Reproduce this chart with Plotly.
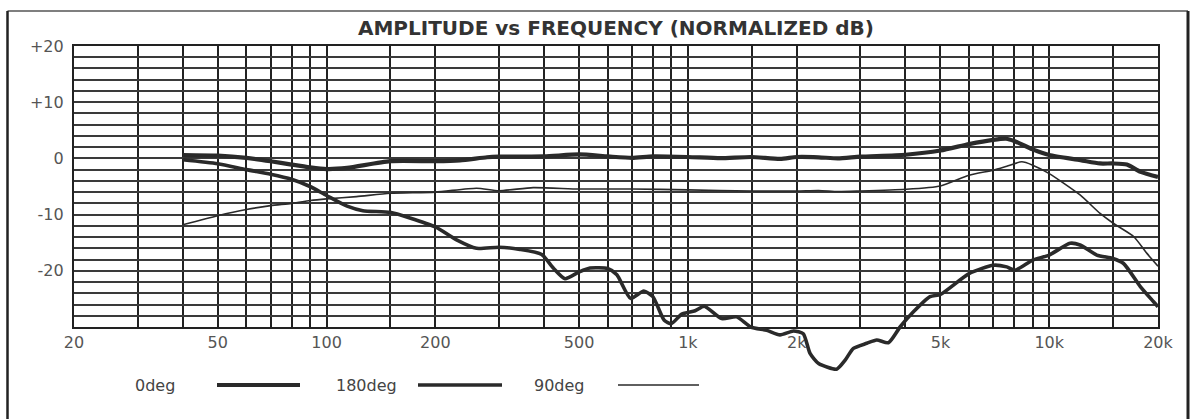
import math
import plotly.graph_objects as go

# ---------------- data ----------------
freq_0deg = [40, 50, 60, 70, 80, 90, 100, 114, 150, 200, 234, 278, 300, 400, 500, 600, 700,
             800, 1000, 1230, 1500, 1800, 2000, 2300, 2600, 3000, 4000, 5000, 6000, 7000,
             7600, 8000, 9000, 10000, 12200, 13800, 15000, 16400, 17900, 20000]
db_0deg = [0.6, 0.5, 0.1, -0.5, -1.1, -1.6, -1.9, -1.7, -0.5, -0.5, -0.35, 0.2, 0.3, 0.35, 0.7,
           0.35, 0.1, 0.35, 0.25, 0.05, 0.25, -0.1, 0.25, 0.2, 0.0, 0.3, 0.65, 1.4, 2.55, 3.3,
           3.5, 3.1, 1.6, 0.6, -0.3, -0.9, -0.9, -1.1, -2.4, -3.3]

freq_180deg = [40, 50, 60, 70, 80, 90, 100, 114, 126, 150, 170, 200, 229, 260, 300, 343, 394,
               424, 457, 500, 536, 600, 636, 694, 755, 800, 860, 900, 962, 1047, 1110, 1240,
               1365, 1493, 1653, 1798, 1960, 2086, 2178, 2300, 2580, 2724, 2871, 3127, 3331,
               3588, 3865, 4209, 4679, 5000, 6000, 7000, 7630, 8046, 9000, 10000, 11420,
               12170, 13540, 15000, 16060, 17870, 19440, 20000]
db_180deg = [-0.25, -0.95, -2.0, -2.8, -3.7, -5.0, -6.6, -8.5, -9.3, -9.6, -10.6, -12.2, -14.5,
             -16.0, -15.8, -16.2, -17.1, -19.5, -21.4, -20.2, -19.5, -19.6, -20.7, -24.9,
             -23.6, -24.6, -28.8, -29.4, -27.7, -27.1, -26.3, -28.5, -28.2, -30.0, -30.6,
             -31.4, -30.7, -31.2, -34.7, -36.5, -37.5, -35.9, -33.8, -32.9, -32.3, -32.8,
             -30.0, -27.3, -24.6, -24.2, -20.5, -19.0, -19.3, -19.9, -18.1, -17.2, -15.1,
             -15.4, -17.2, -17.8, -18.7, -22.8, -25.5, -26.4]

freq_90deg = [40, 50, 60, 70, 80, 90, 100, 121, 150, 200, 260, 300, 373, 500, 700, 1000, 1500,
              2000, 2300, 2600, 3000, 4000, 5000, 6000, 7000, 7630, 8400, 9000, 10000, 12170,
              13830, 15000, 17120, 18640, 20000]
db_90deg = [-11.8, -10.2, -9.1, -8.4, -8.0, -7.5, -7.2, -6.8, -6.2, -6.0, -5.3, -5.75, -5.2,
            -5.45, -5.45, -5.6, -5.8, -5.8, -5.7, -5.9, -5.8, -5.5, -4.9, -3.0, -2.1, -1.4,
            -0.6, -1.2, -2.7, -6.5, -9.8, -11.5, -13.9, -16.9, -19.2]

x_grid_vals = [20, 30, 40, 50, 60, 70, 80, 90, 100, 150, 200, 300, 400, 500, 600, 700, 800,
               900, 1000, 1500, 2000, 3000, 4000, 5000, 6000, 7000, 8000, 9000, 10000, 15000,
               20000]
x_grid_text = ['20', '', '', '50', '', '', '', '', '100', '', '200', '', '', '500', '', '', '',
               '', '1k', '', '2k', '', '', '5k', '', '', '', '', '10k', '', '20k']
y_grid_vals = list(range(-30, 21, 2))
y_label_map = {20: '+20', 10: '+10', 0: '0', -10: '-10', -20: '-20'}
y_grid_text = [y_label_map.get(v, '') for v in y_grid_vals]

series_names = ['0deg', '180deg', '90deg']
series_widths = [4.2, 3.6, 1.6]

# ---------------- layout geometry ----------------
W, H = 1192, 419
ML, MR, MT, MB = 74, 34, 46, 30
PW, PH = W - ML - MR, H - MT - MB
GRID_BOTTOM_PX = 327
Y_MIN, Y_MAX = -30, 20
dom_bottom = (H - MB - GRID_BOTTOM_PX) / PH
px_per_db = (GRID_BOTTOM_PX - MT) / (Y_MAX - Y_MIN)
y2_min = Y_MIN - (H - MB - GRID_BOTTOM_PX) / px_per_db


def px(xp):
    return (xp - ML) / PW


def py(yp):
    return (H - MB - yp) / PH


LINE_COLOR = '#2a2a2a'
FONT = 'DejaVu Sans'

fig = go.Figure()
fig.add_trace(go.Scatter(x=freq_0deg, y=db_0deg, mode='lines', name=series_names[0],
                         line=dict(color=LINE_COLOR, width=series_widths[0], shape='spline',
                                   smoothing=0.6),
                         xaxis='x', yaxis='y'))
fig.add_trace(go.Scatter(x=freq_90deg, y=db_90deg, mode='lines', name=series_names[2],
                         line=dict(color=LINE_COLOR, width=series_widths[2], shape='spline',
                                   smoothing=0.6),
                         xaxis='x', yaxis='y'))
fig.add_trace(go.Scatter(x=freq_180deg, y=db_180deg, mode='lines', name=series_names[1],
                         line=dict(color=LINE_COLOR, width=series_widths[1], shape='spline',
                                   smoothing=0.6),
                         xaxis='x2', yaxis='y2'))

xr = [math.log10(20), math.log10(20000)]

fig.update_layout(
    width=W, height=H,
    margin=dict(l=ML, r=MR, t=MT, b=MB, pad=0),
    paper_bgcolor='white', plot_bgcolor='rgba(0,0,0,0)',
    showlegend=False,
    font=dict(family=FONT, color='#555'),
    title=dict(text='<b>AMPLITUDE vs FREQUENCY (NORMALIZED dB)</b>',
               font=dict(family=FONT, size=20, color='#333'),
               x=0.5, xref='paper', xanchor='center',
               y=1 - 28 / H, yref='container', yanchor='middle'),
    xaxis=dict(type='log', range=xr, domain=[0, 1], anchor='y',
               tickvals=x_grid_vals, ticktext=x_grid_text, ticks='',
               tickfont=dict(family=FONT, size=16, color='#555'),
               showgrid=True, gridcolor='#222', gridwidth=2.2,
               showline=True, mirror=True, linecolor='#222', linewidth=2.2,
               zeroline=False, fixedrange=True),
    yaxis=dict(range=[Y_MIN, Y_MAX], domain=[dom_bottom, 1], anchor='x',
               tickvals=y_grid_vals, ticktext=y_grid_text, ticks='',
               ticklabelstandoff=5,
               tickfont=dict(family=FONT, size=16, color='#555'),
               showgrid=True, gridcolor='#3a3a3a', gridwidth=1.6,
               showline=True, mirror=True, linecolor='#222', linewidth=2.2,
               zeroline=False, fixedrange=True),
    xaxis2=dict(type='log', range=xr, domain=[0, 1], anchor='y2', visible=False,
                showgrid=False, zeroline=False, fixedrange=True),
    yaxis2=dict(range=[y2_min, Y_MAX], domain=[0, 1], anchor='x2', visible=False,
                showgrid=False, zeroline=False, fixedrange=True),
)

# outer frame
frame_l, frame_r, frame_t, frame_b = 7.5, 1188, 11, 440
fig.add_shape(type='line', xref='paper', yref='paper', x0=px(frame_l), x1=px(frame_r),
              y0=py(frame_t), y1=py(frame_t), line=dict(color='#555', width=1.6), layer='above')
fig.add_shape(type='line', xref='paper', yref='paper', x0=px(frame_l), x1=px(frame_l),
              y0=py(frame_t), y1=py(frame_b), line=dict(color='#222', width=2.5), layer='above')
fig.add_shape(type='line', xref='paper', yref='paper', x0=px(frame_r), x1=px(frame_r),
              y0=py(frame_t), y1=py(frame_b), line=dict(color='#222', width=3), layer='above')

# legend (text left of sample line)
legend_y = 385
legend_text_x = [133, 334, 532]
legend_line_x = [(217, 300), (418, 502), (618, 699)]
for name, tx, (l0, l1), wdt in zip(series_names, legend_text_x, legend_line_x, series_widths):
    fig.add_annotation(text=name, xref='paper', yref='paper', x=px(tx), y=py(legend_y),
                       xanchor='left', yanchor='middle', showarrow=False,
                       font=dict(family=FONT, size=16, color='#444'))
    fig.add_shape(type='line', xref='paper', yref='paper', x0=px(l0), x1=px(l1),
                  y0=py(legend_y), y1=py(legend_y),
                  line=dict(color=LINE_COLOR, width=wdt), layer='above')

fig.write_html("out.html", config={'displayModeBar': False},
               post_script="document.body.style.margin='0';")
